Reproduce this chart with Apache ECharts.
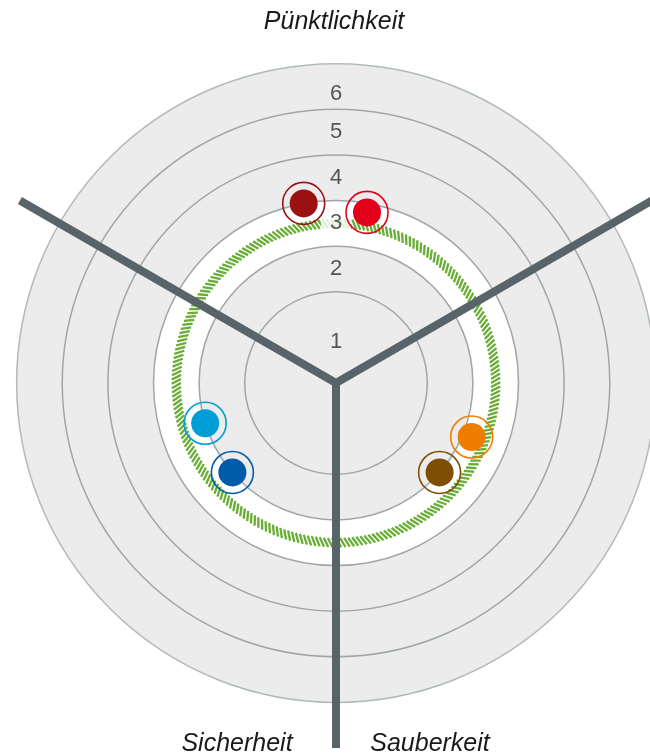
<!DOCTYPE html>
<html>
<head>
<meta charset="utf-8">
<script src="https://cdn.jsdelivr.net/npm/echarts@6/dist/echarts.min.js"></script>
<style>
  html, body { margin: 0; padding: 0; background: #fff; }
  #chart { width: 650px; height: 756px; }
</style>
</head>
<body>
<div id="chart"></div>
<script>
// categories (one per sector) and the sector centre directions
const categories = ["Pünktlichkeit", "Sicherheit", "Sauberkeit"];
const categoryAngles = [90, 210, 330];

// two values per category (dark and light marker)
const darkValues = [3.0, 2.0, 2.0];
const lightValues = [2.8, 2.0, 2.2];
const darkColors = ["#9b1111", "#005ba8", "#7e4e02"];
const lightColors = ["#e2001a", "#009ed6", "#ef7d00"];
// sideways shift of each marker inside its sector (degrees)
const darkShift = [10.2, 10.8, -10.8];
const lightShift = [-10.3, -12.9, 8.3];

// green hatched target ring and the white band around it
const targetValue = 2.5;
const targetBand = [2, 3];

// scale circles and labels
const ringValues = [1, 2, 3, 4, 5, 6];
const tickLabels = ["1", "2", "3", "4", "5", "6"];
const tickLabelPos = [-0.1, 1.5, 2.5, 3.5, 4.5, 5.34];

const NONE = "rgba(0,0,0,0)";
const TITLE_FONT = "italic 25px 'Liberation Sans', Arial, sans-serif";

function markerData(values, shift, colors) {
  return values.map((v, i) => ({
    value: [v, categoryAngles[i] + shift[i]],
    color: colors[i]
  }));
}

const markers = markerData(darkValues, darkShift, darkColors)
  .concat(markerData(lightValues, lightShift, lightColors));

// pixel radius of a value on the radius axis
function radiusOf(api, v) {
  const c = api.coord([-1, 90]);
  const p = api.coord([v, 90]);
  return { c, r: Math.hypot(p[0] - c[0], p[1] - c[1]) };
}

const chart = echarts.init(document.getElementById("chart"), null, { renderer: "canvas" });

chart.setOption({
  backgroundColor: "#fff",
  animation: false,
  polar: { center: [336, 383], radius: 365 },
  angleAxis: {
    type: "value",
    min: 30,
    max: 390,
    interval: 120,
    startAngle: 30,
    clockwise: false,
    axisLine: { show: false },
    axisTick: { show: false },
    axisLabel: { show: false },
    splitLine: { show: true, lineStyle: { color: "#59646a", width: 8 } },
    z: 3
  },
  radiusAxis: {
    type: "value",
    min: -1,
    max: 7,
    interval: 1,
    axisLine: { show: false },
    axisTick: { show: false },
    axisLabel: { show: false },
    splitLine: { show: false },
    z: 0
  },
  graphic: [
    { type: "text", x: 334, y: 22, z: 10,
      style: { text: categories[0], font: TITLE_FONT, fill: "#1a1a1a", align: "center", verticalAlign: "middle" } },
    { type: "text", x: 237, y: 744, z: 10,
      style: { text: categories[1], font: TITLE_FONT, fill: "#1a1a1a", align: "center", verticalAlign: "middle" } },
    { type: "text", x: 430, y: 744, z: 10,
      style: { text: categories[2], font: TITLE_FONT, fill: "#1a1a1a", align: "center", verticalAlign: "middle" } }
  ],
  series: [
    {
      // grey disc, white band and scale circles
      type: "custom",
      coordinateSystem: "polar",
      z: 0,
      silent: true,
      clip: false,
      data: [[0, 90]],
      renderItem(params, api) {
        const outer = radiusOf(api, ringValues[ringValues.length - 1]);
        const c = outer.c;
        const children = [
          { type: "circle", shape: { cx: c[0], cy: c[1], r: outer.r }, style: { fill: "#ececec" } },
          { type: "ring",
            shape: { cx: c[0], cy: c[1], r0: radiusOf(api, targetBand[0]).r, r: radiusOf(api, targetBand[1]).r },
            style: { fill: "#ffffff" } }
        ];
        ringValues.forEach((v, i) => {
          children.push({
            type: "circle",
            shape: { cx: c[0], cy: c[1], r: radiusOf(api, v).r },
            style: { fill: null, stroke: i === ringValues.length - 1 ? "#b1babb" : "#9fa6a9", lineWidth: 1.5 }
          });
        });
        return { type: "group", children };
      }
    },
    {
      // hatched ring
      type: "custom",
      coordinateSystem: "polar",
      z: 2,
      silent: true,
      clip: false,
      data: [[targetValue, 90]],
      renderItem(params, api) {
        const v = api.value(0);
        const children = [];
        for (let a = 30; a < 390; a += 1.5) {
          const p0 = api.coord([v - 0.1, a]);
          const p1 = api.coord([v + 0.1, a + 1.8]);
          children.push({
            type: "line",
            shape: { x1: p0[0], y1: p0[1], x2: p1[0], y2: p1[1] },
            style: { stroke: "#68ad35", lineWidth: 2.3 }
          });
        }
        return { type: "group", children };
      }
    },
    {
      // scale labels
      type: "scatter",
      coordinateSystem: "polar",
      z: 4,
      silent: true,
      symbolSize: 0,
      data: tickLabels.map((t, i) => ({
        value: [tickLabelPos[i], 90],
        name: t,
        label: t === "3" ? { backgroundColor: "#fff", padding: [2, 9] } : {}
      })),
      label: {
        show: true,
        position: "inside",
        formatter: "{b}",
        fontFamily: "'Liberation Sans', Arial, sans-serif",
        fontSize: 22,
        color: "#2e2e2e"
      }
    },
    {
      // outer rings of the markers
      type: "scatter",
      coordinateSystem: "polar",
      z: 5,
      silent: true,
      symbolSize: 42,
      data: markers.map(m => ({
        value: m.value,
        itemStyle: { color: NONE, borderColor: m.color, borderWidth: 1.6, opacity: 1 }
      }))
    },
    {
      // filled dots
      type: "scatter",
      coordinateSystem: "polar",
      z: 6,
      silent: true,
      symbolSize: 28,
      data: markers.map(m => ({ value: m.value, itemStyle: { color: m.color, opacity: 1 } }))
    }
  ]
});
</script>
</body>
</html>
